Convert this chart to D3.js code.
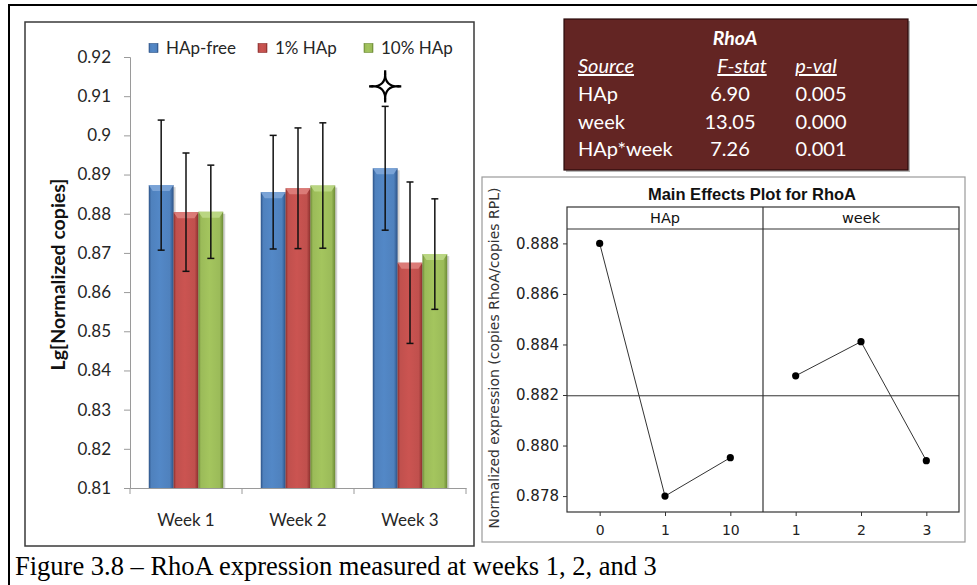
<!DOCTYPE html>
<html>
<head>
<meta charset="utf-8">
<script src="https://cdn.jsdelivr.net/npm/d3@7"></script>
<style>
  html, body { margin: 0; padding: 0; background: #fff; }
  svg { display: block; }
</style>
</head>
<body>
<svg id="fig" width="977" height="585"></svg>
<script>
// ---- Bar chart data: RhoA expression per week ----
const weeks = ["Week 1", "Week 2", "Week 3"];
const seriesNames = ["HAp-free", "1% HAp", "10% HAp"];
const hapFree = [0.8873, 0.8855, 0.8916];
const hap1 = [0.8804, 0.8865, 0.8675];
const hap10 = [0.8805, 0.8872, 0.8697];
const hapFreeErr = [0.0166, 0.0145, 0.0158];
const hap1Err = [0.0151, 0.0154, 0.0206];
const hap10Err = [0.0119, 0.0160, 0.0141];
const barTicks = [0.81, 0.82, 0.83, 0.84, 0.85, 0.86, 0.87, 0.88, 0.89, 0.9, 0.91, 0.92];
// significance star: Week 3, HAp-free
const starWeek = "Week 3";
const starSeries = "HAp-free";

// ---- ANOVA table ----
const anovaTitle = "RhoA";
const anovaHeaders = ["Source", "F-stat", "p-val"];
const anovaSources = ["HAp", "week", "HAp*week"];
const anovaF = [6.90, 13.05, 7.26];
const anovaP = [0.005, 0.000, 0.001];

// ---- Main effects plot ----
const hapLevels = ["0", "1", "10"];
const hapMeans = [0.8880, 0.8780, 0.87952];
const weekLevels = ["1", "2", "3"];
const weekMeans = [0.88276, 0.88411, 0.87940];
const grandMean = 0.88197;
const effectTicks = [0.878, 0.880, 0.882, 0.884, 0.886, 0.888];

const caption = "Figure 3.8 \u2013 RhoA expression measured at weeks 1, 2, and 3";

const svg = d3.select("#fig");
const defs = svg.append("defs");

// ===== Page frame =====
svg.append("line").attr("x1", 9).attr("x2", 977).attr("y1", 5).attr("y2", 5)
  .attr("stroke", "#000").attr("stroke-width", 2);
svg.append("line").attr("x1", 9).attr("x2", 9).attr("y1", 4).attr("y2", 585)
  .attr("stroke", "#000").attr("stroke-width", 2);

// ===== Bar chart =====
const barFont = "Lato, 'Open Sans', sans-serif";
svg.append("rect").attr("x", 25).attr("y", 22).attr("width", 449).attr("height", 524)
  .attr("fill", "#fff").attr("stroke", "#3a3a3a").attr("stroke-width", 1.5);

const seriesValues = [hapFree, hap1, hap10];
const seriesErrors = [hapFreeErr, hap1Err, hap10Err];
const seriesColors = ["#4F81BD", "#C0504D", "#9BBB59"];
const colorsDark = ["#2c5286", "#8a2e2c", "#6b8a34"];
const colorsLight = ["#7ea6d8", "#de7f7c", "#bcd886"];

seriesColors.forEach((c, i) => {
  const g = defs.append("linearGradient").attr("id", "barGrad" + i)
    .attr("x1", "0%").attr("x2", "100%").attr("y1", "0%").attr("y2", "0%");
  g.append("stop").attr("offset", "0%").attr("stop-color", colorsDark[i]);
  g.append("stop").attr("offset", "10%").attr("stop-color", c);
  g.append("stop").attr("offset", "45%").attr("stop-color", d3.color(c).brighter(0.15));
  g.append("stop").attr("offset", "85%").attr("stop-color", c);
  g.append("stop").attr("offset", "100%").attr("stop-color", colorsDark[i]);
});

const yBar = d3.scaleLinear().domain([0.81, 0.92]).range([488, 57]);
const x0 = d3.scaleBand().domain(weeks).range([130, 466]).paddingInner(0.335).paddingOuter(0.1675);
const x1 = d3.scaleBand().domain(seriesNames).range([0, x0.bandwidth()]);

// axes
const yAxis = d3.axisLeft(yBar).tickValues(barTicks).tickSize(6).tickPadding(13)
  .tickFormat(d => String(+d.toFixed(2)));
const yG = svg.append("g").attr("transform", "translate(130,0)").call(yAxis);
yG.select(".domain").attr("stroke", "#9a9a9a");
yG.selectAll(".tick line").attr("stroke", "#9a9a9a");
yG.selectAll(".tick text").attr("font-family", barFont).attr("font-size", 17).attr("fill", "#262626");

const xAxis = d3.axisBottom(x0).tickSize(0).tickPadding(26);
const xG = svg.append("g").attr("transform", "translate(0,488)").call(xAxis);
xG.select(".domain").attr("stroke", "#9a9a9a");
xG.selectAll(".tick text").attr("font-family", barFont).attr("font-size", 17).attr("fill", "#262626");
// category boundary ticks
const step = x0.step();
const boundaries = d3.range(weeks.length + 1).map(i => x0.range()[0] + i * step);
svg.append("g").selectAll("line").data(boundaries).join("line")
  .attr("x1", d => d).attr("x2", d => d).attr("y1", 488).attr("y2", 494)
  .attr("stroke", "#9a9a9a");

// y-axis title
svg.append("text")
  .attr("transform", `translate(58,${(yBar.range()[0] + yBar.range()[1]) / 2 + 2}) rotate(-90)`)
  .attr("text-anchor", "middle").attr("dy", "0.35em").attr("font-family", barFont).attr("font-weight", "bold")
  .attr("font-size", 19.5).attr("fill", "#111").text("Lg[Normalized copies]");

// bars
const barData = [];
weeks.forEach((w, wi) => {
  seriesNames.forEach((s, si) => {
    barData.push({ week: w, series: s, si, value: seriesValues[si][wi], err: seriesErrors[si][wi] });
  });
});

const barG = svg.append("g");
const bars = barG.selectAll("g.bar").data(barData).join("g").attr("class", "bar");
// soft shadow on the right side
bars.append("rect")
  .attr("x", d => x0(d.week) + x1(d.series) + 2)
  .attr("y", d => yBar(d.value) + 2)
  .attr("width", x1.bandwidth())
  .attr("height", d => yBar(0.81) - yBar(d.value) - 2)
  .attr("fill", "rgba(0,0,0,0.18)");
bars.append("rect")
  .attr("x", d => x0(d.week) + x1(d.series))
  .attr("y", d => yBar(d.value))
  .attr("width", x1.bandwidth())
  .attr("height", d => yBar(0.81) - yBar(d.value))
  .attr("fill", d => `url(#barGrad${d.si})`);
// bevelled top cap
bars.append("path")
  .attr("d", d => {
    const bx = x0(d.week) + x1(d.series), bw = x1.bandwidth(), by = yBar(d.value);
    return `M${bx},${by}L${bx + bw},${by}L${bx + bw - 4},${by + 6}L${bx + 4},${by + 6}Z`;
  })
  .attr("fill", d => colorsLight[d.si]).attr("opacity", 0.9);

// error bars
const errG = svg.append("g").attr("stroke", "#111").attr("stroke-width", 1.5);
barData.forEach(d => {
  const cx = x0(d.week) + x1(d.series) + x1.bandwidth() / 2;
  const yt = yBar(d.value + d.err), yb = yBar(d.value - d.err);
  errG.append("line").attr("x1", cx).attr("x2", cx).attr("y1", yt).attr("y2", yb);
  errG.append("line").attr("x1", cx - 3.5).attr("x2", cx + 3.5).attr("y1", yt).attr("y2", yt);
  errG.append("line").attr("x1", cx - 3.5).attr("x2", cx + 3.5).attr("y1", yb).attr("y2", yb);
});

// significance star above the error bar (four thin points, concave sides)
{
  const si = seriesNames.indexOf(starSeries), wi = weeks.indexOf(starWeek);
  const cx = x0(starWeek) + x1(starSeries) + x1.bandwidth() / 2;
  const cy = yBar(seriesValues[si][wi] + seriesErrors[si][wi]) - 20;
  const R = 16, r = -2.5;
  let d = "";
  for (let i = 0; i < 4; i++) {
    const a = i * Math.PI / 2 - Math.PI / 2, b = a + Math.PI / 2;
    const p1 = [R * Math.cos(a), R * Math.sin(a)];
    const p2 = [R * Math.cos(b), R * Math.sin(b)];
    const m = a + Math.PI / 4;
    const c = [r * Math.cos(m), r * Math.sin(m)];
    d += (i === 0 ? `M${p1[0]},${p1[1]}` : "") + `Q${c[0]},${c[1]} ${p2[0]},${p2[1]}`;
  }
  d += "Z";
  svg.append("path").attr("transform", `translate(${cx},${cy})`)
    .attr("d", d).attr("fill", "#fff").attr("stroke", "#000")
    .attr("stroke-width", 2.2).attr("stroke-linejoin", "miter");
}

// legend
const legendX = [149, 258, 364];
const legend = svg.append("g").selectAll("g").data(seriesNames).join("g")
  .attr("transform", (d, i) => `translate(${legendX[i]},48)`);
legend.append("rect").attr("x", 0).attr("y", -4.5).attr("width", 9).attr("height", 9)
  .attr("fill", (d, i) => `url(#barGrad${i})`).attr("stroke", (d, i) => colorsDark[i]).attr("stroke-width", 0.6);
legend.append("text").attr("x", 17).attr("y", 0).attr("dy", "0.35em")
  .attr("font-family", barFont).attr("font-size", 17).attr("fill", "#262626").text(d => d);

// ===== ANOVA table =====
const tbl = svg.append("g");
tbl.append("rect").attr("x", 566).attr("y", 21).attr("width", 344).attr("height", 151).attr("fill", "#b8b8b8");
tbl.append("rect").attr("x", 564).attr("y", 19).attr("width", 344).attr("height", 151)
  .attr("fill", "#632523").attr("stroke", "#2a0a0a").attr("stroke-width", 1.2);
const tFont = "Lato, 'Open Sans', sans-serif";
tbl.append("text").attr("x", 735).attr("y", 45).attr("text-anchor", "middle")
  .attr("font-family", tFont).attr("font-size", 19.5).attr("font-weight", "bold")
  .attr("font-style", "italic").attr("fill", "#fff").text(anovaTitle);
const headerX = [578, 742, 816];
const headerAnchor = ["start", "middle", "middle"];
tbl.selectAll("text.hdr").data(anovaHeaders).join("text").attr("class", "hdr")
  .attr("x", (d, i) => headerX[i]).attr("y", 73).attr("text-anchor", (d, i) => headerAnchor[i])
  .attr("font-family", tFont).attr("font-size", 20).attr("font-style", "italic")
  .attr("text-decoration", "underline").attr("fill", "#fff").text(d => d);
const rowY = [101, 128.5, 156];
const fFmt = d3.format(".2f"), pFmt = d3.format(".3f");
anovaSources.forEach((s, i) => {
  tbl.append("text").attr("x", 578).attr("y", rowY[i]).attr("font-family", tFont)
    .attr("font-size", 20).attr("fill", "#fff").text(s);
  tbl.append("text").attr("x", 730).attr("y", rowY[i]).attr("text-anchor", "middle")
    .attr("font-family", tFont).attr("font-size", 20).attr("fill", "#fff").text(fFmt(anovaF[i]));
  tbl.append("text").attr("x", 821).attr("y", rowY[i]).attr("text-anchor", "middle")
    .attr("font-family", tFont).attr("font-size", 20).attr("fill", "#fff").text(pFmt(anovaP[i]));
});

// ===== Main effects plot =====
const mFont = "'DejaVu Sans', sans-serif";
svg.append("rect").attr("x", 482).attr("y", 177).attr("width", 483).attr("height", 365)
  .attr("fill", "#fff").attr("stroke", "#9a9a9a").attr("stroke-width", 1.2);
svg.append("text").attr("x", 752).attr("y", 200).attr("text-anchor", "middle")
  .attr("font-family", "'Liberation Sans', Arial, sans-serif").attr("font-weight", "bold")
  .attr("font-size", 16.5).attr("fill", "#111").text("Main Effects Plot for RhoA");

const pLeft = 567, pMid = 763, pRight = 959, stripTop = 207, stripBot = 229, pBot = 512;
const yEff = d3.scaleLinear().domain([0.87737, 0.88857]).range([pBot, stripBot]);
const panels = [
  { name: "HAp", levels: hapLevels, means: hapMeans, x: d3.scalePoint().domain(hapLevels).range([pLeft, pMid]).padding(0.5) },
  { name: "week", levels: weekLevels, means: weekMeans, x: d3.scalePoint().domain(weekLevels).range([pMid, pRight]).padding(0.5) }
];

// grand mean reference line
svg.append("line").attr("x1", pLeft).attr("x2", pRight)
  .attr("y1", yEff(grandMean)).attr("y2", yEff(grandMean)).attr("stroke", "#333").attr("stroke-width", 1);

panels.forEach(p => {
  const [a, b] = p.x.range();
  svg.append("text").attr("x", (a + b) / 2).attr("y", (stripTop + stripBot) / 2).attr("dy", "0.36em")
    .attr("text-anchor", "middle").attr("font-family", mFont).attr("font-size", 14.5)
    .attr("fill", "#111").text(p.name);
  const xa = d3.axisBottom(p.x).tickSize(4).tickPadding(9);
  const g = svg.append("g").attr("transform", `translate(0,${pBot})`).call(xa);
  g.select(".domain").remove();
  g.selectAll(".tick line").attr("stroke", "#333");
  g.selectAll(".tick text").attr("font-family", mFont).attr("font-size", 14).attr("fill", "#222");
  const pts = p.levels.map((l, i) => [p.x(l), yEff(p.means[i])]);
  svg.append("path").attr("d", d3.line()(pts)).attr("fill", "none").attr("stroke", "#333").attr("stroke-width", 1);
  svg.append("g").selectAll("circle").data(pts).join("circle")
    .attr("cx", d => d[0]).attr("cy", d => d[1]).attr("r", 3.6).attr("fill", "#000");
});

const yaEff = d3.axisLeft(yEff).tickValues(effectTicks).tickSize(4).tickPadding(4).tickFormat(d3.format(".3f"));
const yEffG = svg.append("g").attr("transform", `translate(${pLeft},0)`).call(yaEff);
yEffG.select(".domain").remove();
yEffG.selectAll(".tick line").attr("stroke", "#333");
yEffG.selectAll(".tick text").attr("font-family", mFont).attr("font-size", 15).attr("fill", "#222");

// panel frames
svg.append("rect").attr("x", pLeft).attr("y", stripTop).attr("width", pRight - pLeft).attr("height", pBot - stripTop)
  .attr("fill", "none").attr("stroke", "#333").attr("stroke-width", 1.2);
svg.append("line").attr("x1", pLeft).attr("x2", pRight).attr("y1", stripBot).attr("y2", stripBot)
  .attr("stroke", "#333").attr("stroke-width", 1.2);
svg.append("line").attr("x1", pMid).attr("x2", pMid).attr("y1", stripTop).attr("y2", pBot)
  .attr("stroke", "#333").attr("stroke-width", 1.2);

svg.append("text")
  .attr("transform", `translate(494,358) rotate(-90)`)
  .attr("text-anchor", "middle").attr("dy", "0.35em").attr("font-family", mFont).attr("font-size", 14)
  .attr("fill", "#333").text("Normalized expression (copies RhoA/copies RPL)");

// ===== Caption =====
svg.append("text").attr("x", 15).attr("y", 575)
  .attr("font-family", "'Liberation Serif', 'Times New Roman', serif").attr("font-size", 26.5)
  .attr("fill", "#000").text(caption);
</script>
</body>
</html>
